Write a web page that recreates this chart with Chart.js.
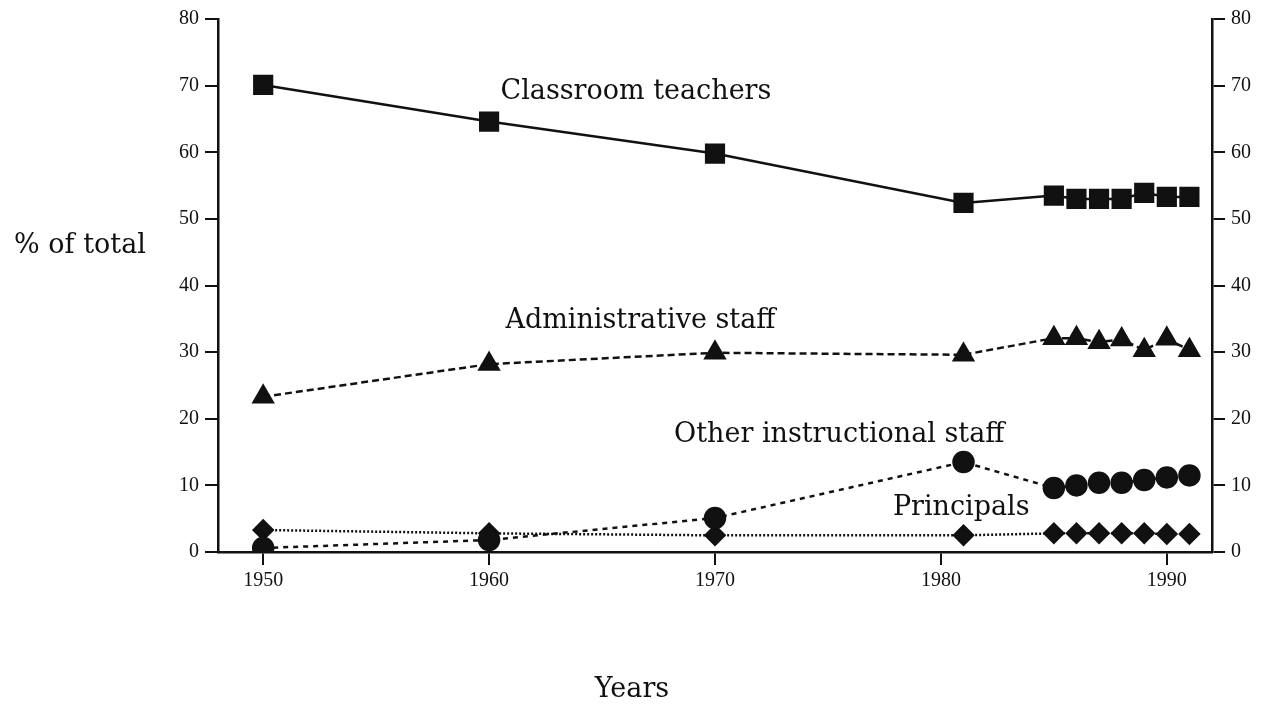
<!DOCTYPE html>
<html>
<head>
<meta charset="utf-8">
<script src="https://cdn.jsdelivr.net/npm/chart.js@4"></script>
<style>
  html, body { margin: 0; padding: 0; background: #fff; }
  #wrap { width: 1262px; height: 716px; }
</style>
</head>
<body>
<div id="wrap"><canvas id="chart"></canvas></div>
<script>
// Years on the x axis
const years = [1950, 1960, 1970, 1981, 1985, 1986, 1987, 1988, 1989, 1990, 1991];
const xTicks = [1950, 1960, 1970, 1980, 1990];
const yTicks = [0, 10, 20, 30, 40, 50, 60, 70, 80];

// Percent of total staff
const classroomTeachers = [70.1, 64.6, 59.8, 52.4, 53.5, 53.0, 53.0, 53.0, 53.9, 53.3, 53.3];
const adminStaff = [23.3, 28.2, 29.9, 29.6, 32.1, 32.1, 31.5, 31.9, 30.3, 32.0, 30.3];
const otherInstructional = [0.6, 1.8, 5.1, 13.5, 9.6, 10.0, 10.4, 10.4, 10.8, 11.2, 11.5];
const principals = [3.3, 2.8, 2.5, 2.5, 2.8, 2.8, 2.8, 2.8, 2.8, 2.7, 2.7];

// Series names written next to the lines (anchor in data units)
const seriesLabels = ['Classroom teachers', 'Administrative staff', 'Other instructional staff', 'Principals'];
const labelYears = [1966.5, 1966.7, 1975.5, 1980.9];
const labelValues = [69.0, 34.6, 17.6, 6.6];

const serif = "'DejaVu Serif', 'Liberation Serif', serif";
const tickFont = "'Liberation Serif', 'DejaVu Serif', serif";
const ink = '#111';

function toPoints(values) {
    return values.map((v, i) => ({ x: years[i], y: v }));
}

// Draws the series names and the two axis titles
const textPlugin = {
    id: 'textPlugin',
    afterDraw(chart) {
        const ctx = chart.ctx;
        const xs = chart.scales.x;
        const ys = chart.scales.y;
        ctx.save();
        ctx.fillStyle = ink;
        ctx.textAlign = 'center';
        ctx.textBaseline = 'middle';
        ctx.font = '27px ' + serif;
        seriesLabels.forEach((txt, i) => {
            ctx.fillText(txt, xs.getPixelForValue(labelYears[i]), ys.getPixelForValue(labelValues[i]));
        });
        ctx.fillText('% of total', 80, 246);
        ctx.fillText('Years', 632, 690);
        ctx.restore();
    }
};

function yAxis(position, width) {
    return {
        type: 'linear',
        position: position,
        min: 0,
        max: 80,
        afterBuildTicks: (scale) => { scale.ticks = yTicks.map(v => ({ value: v })); },
        afterFit: (scale) => { scale.width = width; },
        border: { display: true, color: ink, width: 2.5 },
        grid: { drawOnChartArea: false, color: ink, lineWidth: 2, tickLength: 13 },
        ticks: { color: ink, padding: 6, font: { family: tickFont, size: 20 } }
    };
}

const ctx = document.getElementById('chart').getContext('2d');
new Chart(ctx, {
    type: 'line',
    data: {
        datasets: [
            {
                label: 'Classroom teachers',
                data: toPoints(classroomTeachers),
                borderColor: ink,
                backgroundColor: ink,
                borderWidth: 2.5,
                pointStyle: 'rect',
                pointRadius: 12.5
            },
            {
                label: 'Administrative staff',
                data: toPoints(adminStaff),
                borderColor: ink,
                backgroundColor: ink,
                borderWidth: 2.5,
                borderDash: [7, 4],
                pointStyle: 'triangle',
                pointRadius: 11
            },
            {
                label: 'Other instructional staff',
                data: toPoints(otherInstructional),
                borderColor: ink,
                backgroundColor: ink,
                borderWidth: 2.5,
                borderDash: [5, 5],
                pointStyle: 'circle',
                pointRadius: 10
            },
            {
                label: 'Principals',
                data: toPoints(principals),
                borderColor: ink,
                backgroundColor: ink,
                borderWidth: 2.5,
                borderDash: [2, 2],
                pointStyle: 'rectRot',
                pointRadius: 9.5
            }
        ]
    },
    options: {
        responsive: true,
        maintainAspectRatio: false,
        animation: false,
        layout: { padding: { top: 19, left: 0, right: 0, bottom: 0 } },
        elements: {
            line: { tension: 0, fill: false },
            point: { borderWidth: 0, hoverRadius: 10 }
        },
        plugins: {
            legend: { display: false },
            tooltip: { enabled: false }
        },
        scales: {
            x: {
                type: 'linear',
                min: 1948,
                max: 1992,
                afterBuildTicks: (scale) => { scale.ticks = xTicks.map(v => ({ value: v })); },
                afterFit: (scale) => { scale.height = 164; },
                border: { display: true, color: ink, width: 2.5 },
                grid: { drawOnChartArea: false, color: ink, lineWidth: 2, tickLength: 13 },
                ticks: {
                    color: ink,
                    padding: 4,
                    maxRotation: 0,
                    font: { family: tickFont, size: 20 },
                    callback: (v) => String(v)
                }
            },
            y: yAxis('left', 218),
            y2: yAxis('right', 50)
        }
    },
    plugins: [textPlugin]
});
</script>
</body>
</html>
